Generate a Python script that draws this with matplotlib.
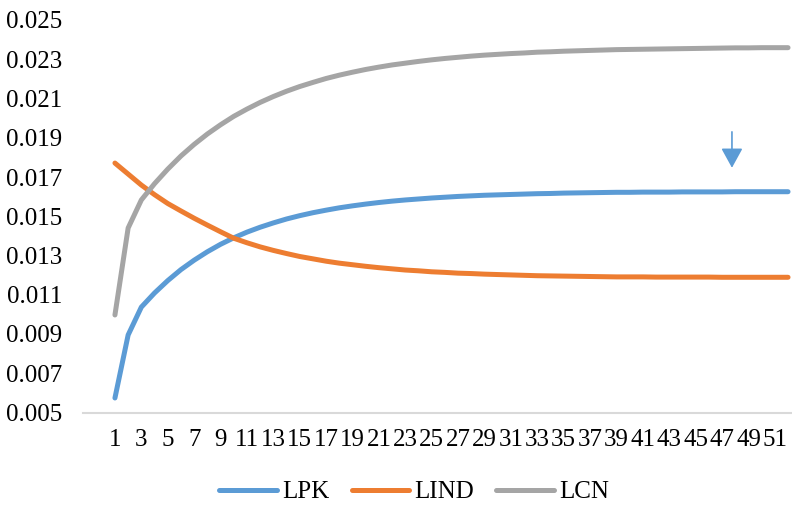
import matplotlib
matplotlib.use("Agg")
import matplotlib.pyplot as plt

plt.rcParams['font.family'] = ['Liberation Serif', 'DejaVu Serif']

periods = list(range(1, 53))

lpk = [0.00574, 0.00895, 0.01037, 0.01109, 0.01172, 0.01228, 0.01276, 0.01319,
       0.01357, 0.01390, 0.01419, 0.01444, 0.01466, 0.01486, 0.01503, 0.01518,
       0.01531, 0.01543, 0.01553, 0.01562, 0.01570, 0.01577, 0.01583, 0.01588,
       0.01593, 0.01597, 0.01601, 0.01604, 0.01607, 0.01609, 0.01611, 0.01613,
       0.01615, 0.01616, 0.01618, 0.01619, 0.01620, 0.01621, 0.01622, 0.01622,
       0.01623, 0.01623, 0.01623, 0.01624, 0.01624, 0.01624, 0.01624, 0.01625,
       0.01625, 0.01625, 0.01625, 0.01625]

lind = [0.01771, 0.01715, 0.01659, 0.01610, 0.01565, 0.01527, 0.01490, 0.01455,
        0.01421, 0.01388, 0.01365, 0.01344, 0.01326, 0.01310, 0.01295, 0.01283,
        0.01271, 0.01261, 0.01253, 0.01245, 0.01238, 0.01232, 0.01226, 0.01222,
        0.01217, 0.01214, 0.01210, 0.01208, 0.01205, 0.01203, 0.01201, 0.01199,
        0.01197, 0.01196, 0.01195, 0.01194, 0.01193, 0.01192, 0.01191, 0.01191,
        0.01191, 0.01190, 0.01190, 0.01190, 0.01190, 0.01190, 0.01189, 0.01189,
        0.01189, 0.01189, 0.01189, 0.01189]

lcn = [0.00997, 0.01440, 0.01583, 0.01666, 0.01740, 0.01807, 0.01866, 0.01919,
       0.01966, 0.02009, 0.02046, 0.02080, 0.02110, 0.02137, 0.02161, 0.02182,
       0.02202, 0.02219, 0.02234, 0.02248, 0.02260, 0.02271, 0.02280, 0.02289,
       0.02297, 0.02304, 0.02310, 0.02316, 0.02321, 0.02325, 0.02329, 0.02332,
       0.02336, 0.02338, 0.02341, 0.02343, 0.02345, 0.02347, 0.02349, 0.02350,
       0.02351, 0.02352, 0.02353, 0.02354, 0.02355, 0.02356, 0.02357, 0.02358,
       0.02358, 0.02359, 0.02359, 0.02359]

y_ticks = [0.005, 0.007, 0.009, 0.011, 0.013, 0.015, 0.017, 0.019, 0.021, 0.023, 0.025]
x_ticks = list(range(1, 52, 2))

# arrow marker (x position, start value, tip value)
arrow_x, arrow_y0, arrow_y1 = 47.75, 0.0193, 0.01747

fig = plt.figure(figsize=(7.92, 5.05), dpi=100)
ax = fig.add_axes([83 / 792, 92.5 / 505, 1 - 83 / 792, 392.5 / 505])

ax.plot(periods, lpk, color='#5B9BD5', lw=3.6, solid_capstyle='round', label='LPK', clip_on=False)
ax.plot(periods, lind, color='#ED7D31', lw=3.6, solid_capstyle='round', label='LIND', clip_on=False)
ax.plot(periods, lcn, color='#A5A5A5', lw=3.6, solid_capstyle='round', label='LCN', clip_on=False)

ax.annotate('', xy=(arrow_x, arrow_y1), xytext=(arrow_x, arrow_y0),
            arrowprops=dict(arrowstyle='-|>,head_length=0.4,head_width=0.22',
                            mutation_scale=30, color='#5B9BD5', lw=1.2,
                            shrinkA=0, shrinkB=0))

ax.set_xlim(-1.42, 52.3)
ax.set_ylim(0.005, 0.025)
ax.set_yticks(y_ticks)
ax.set_yticklabels(['%.3f' % v for v in y_ticks])
ax.set_xticks(x_ticks)
ax.set_xticklabels([str(v) for v in x_ticks])
ax.tick_params(axis='y', length=0, pad=15, labelsize=18)
ax.tick_params(axis='x', length=0, pad=12, labelsize=18)

for s in ['top', 'right', 'left']:
    ax.spines[s].set_visible(False)
ax.spines['bottom'].set_color('#D9D9D9')
ax.spines['bottom'].set_linewidth(1.5)

fig.legend(loc='center', bbox_to_anchor=(414 / 792, 13 / 505), ncol=3, frameon=False,
           fontsize=18, handlelength=2.3, handletextpad=0.2, columnspacing=0.9)

fig.savefig('out.png', dpi=100)
